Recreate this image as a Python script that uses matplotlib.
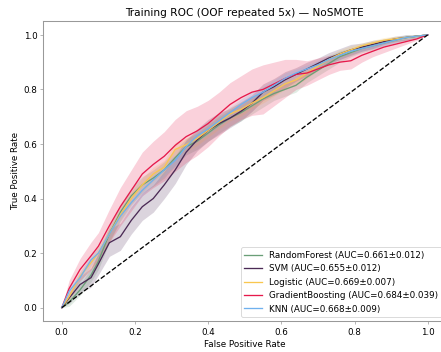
import matplotlib
matplotlib.use("Agg")
import matplotlib.pyplot as plt
import numpy as np

# mean ROC on a shared FPR grid, with +/- 1 std across repeats
fpr = [0.0, 0.02, 0.05, 0.08, 0.10, 0.13, 0.16, 0.19, 0.22, 0.25, 0.28, 0.31,
       0.34, 0.37, 0.40, 0.43, 0.46, 0.49, 0.52, 0.55, 0.58, 0.61, 0.64, 0.67,
       0.70, 0.73, 0.76, 0.79, 0.82, 0.85, 0.88, 0.91, 0.94, 0.97, 1.0]

models = ["RandomForest", "SVM", "Logistic", "GradientBoosting", "KNN"]
auc_mean = [0.661, 0.655, 0.669, 0.684, 0.668]
auc_std = [0.012, 0.012, 0.007, 0.039, 0.009]
colors = ["#6a9f77", "#4b2a55", "#f9c74f", "#e6194b", "#6fb1ee"]

tpr_rf = [0.0, 0.02, 0.065, 0.12, 0.17, 0.27, 0.35, 0.41, 0.45, 0.475, 0.505, 0.55,
          0.59, 0.61, 0.64, 0.67, 0.695, 0.715, 0.74, 0.765, 0.785, 0.80, 0.815, 0.845,
          0.87, 0.895, 0.92, 0.935, 0.95, 0.96, 0.97, 0.98, 0.99, 0.995, 1.0]
tpr_svm = [0.0, 0.035, 0.085, 0.11, 0.16, 0.238, 0.26, 0.32, 0.37, 0.40, 0.45, 0.505,
           0.57, 0.615, 0.65, 0.675, 0.695, 0.72, 0.75, 0.79, 0.81, 0.835, 0.855, 0.875,
           0.895, 0.915, 0.93, 0.945, 0.955, 0.965, 0.975, 0.985, 0.99, 0.995, 1.0]
tpr_lr = [0.0, 0.04, 0.115, 0.165, 0.20, 0.27, 0.34, 0.40, 0.45, 0.49, 0.515, 0.58,
          0.597, 0.62, 0.65, 0.68, 0.71, 0.727, 0.75, 0.77, 0.795, 0.82, 0.835, 0.86,
          0.885, 0.91, 0.93, 0.945, 0.96, 0.97, 0.98, 0.985, 0.99, 0.995, 1.0]
tpr_gb = [0.0, 0.07, 0.14, 0.19, 0.225, 0.30, 0.37, 0.43, 0.49, 0.525, 0.555, 0.595,
          0.627, 0.648, 0.675, 0.71, 0.745, 0.77, 0.79, 0.80, 0.82, 0.84, 0.855, 0.86,
          0.875, 0.89, 0.90, 0.905, 0.925, 0.94, 0.955, 0.965, 0.975, 0.985, 1.0]
tpr_knn = [0.0, 0.06, 0.11, 0.175, 0.20, 0.27, 0.335, 0.385, 0.43, 0.468, 0.505, 0.54,
           0.59, 0.63, 0.655, 0.685, 0.715, 0.745, 0.77, 0.79, 0.815, 0.84, 0.86, 0.875,
           0.89, 0.91, 0.925, 0.94, 0.95, 0.96, 0.97, 0.98, 0.99, 0.995, 1.0]

std_rf = [0.0, 0.015, 0.02, 0.025, 0.03, 0.03, 0.03, 0.03, 0.03, 0.03, 0.03, 0.03,
          0.03, 0.03, 0.03, 0.03, 0.03, 0.03, 0.03, 0.03, 0.025, 0.025, 0.025, 0.02,
          0.02, 0.02, 0.02, 0.015, 0.015, 0.015, 0.01, 0.01, 0.01, 0.005, 0.0]
std_svm = [0.0, 0.02, 0.03, 0.035, 0.04, 0.05, 0.05, 0.05, 0.05, 0.05, 0.05, 0.05,
           0.045, 0.04, 0.04, 0.04, 0.035, 0.035, 0.03, 0.03, 0.03, 0.03, 0.025, 0.025,
           0.02, 0.02, 0.02, 0.02, 0.015, 0.015, 0.01, 0.01, 0.01, 0.005, 0.0]
std_lr = [0.0, 0.015, 0.02, 0.02, 0.025, 0.025, 0.025, 0.025, 0.025, 0.025, 0.025, 0.025,
          0.025, 0.025, 0.025, 0.025, 0.025, 0.025, 0.02, 0.02, 0.02, 0.02, 0.02, 0.02,
          0.015, 0.015, 0.015, 0.015, 0.01, 0.01, 0.01, 0.01, 0.005, 0.005, 0.0]
std_gb = [0.0, 0.03, 0.04, 0.05, 0.05, 0.06, 0.07, 0.075, 0.08, 0.085, 0.09, 0.095,
          0.095, 0.09, 0.085, 0.08, 0.08, 0.08, 0.085, 0.09, 0.08, 0.07, 0.055, 0.045,
          0.04, 0.035, 0.03, 0.03, 0.025, 0.02, 0.02, 0.015, 0.01, 0.005, 0.0]
std_knn = [0.0, 0.015, 0.02, 0.02, 0.02, 0.02, 0.02, 0.02, 0.02, 0.02, 0.02, 0.02,
           0.02, 0.02, 0.02, 0.02, 0.02, 0.02, 0.02, 0.02, 0.02, 0.02, 0.015, 0.015,
           0.015, 0.015, 0.015, 0.01, 0.01, 0.01, 0.01, 0.01, 0.005, 0.005, 0.0]

tprs = [tpr_rf, tpr_svm, tpr_lr, tpr_gb, tpr_knn]
stds = [std_rf, std_svm, std_lr, std_gb, std_knn]

fig = plt.figure(figsize=(7, 352.2 / 63), dpi=63)
ax = fig.add_axes([0.0986, 0.0872, 0.9127, 0.852])

x = np.array(fpr)
for name, m, s, c, am, asd in zip(models, tprs, stds, colors, auc_mean, auc_std):
    m = np.array(m)
    s = np.array(s)
    ax.plot(x, m, color=c, lw=1.5, label=f"{name} (AUC={am:.3f}\u00b1{asd:.3f})")
    ax.fill_between(x, np.clip(m - s, 0, 1), np.clip(m + s, 0, 1), color=c, alpha=0.2, lw=0)

ax.plot([0, 1], [0, 1], "k--", lw=1.5)

for sp in ax.spines.values():
    sp.set_color("#999999")
    sp.set_linewidth(1.2)
ax.tick_params(color="#999999")

ax.set_xlabel("False Positive Rate")
ax.set_ylabel("True Positive Rate")
ax.set_title("Training ROC (OOF repeated 5x) \u2014 NoSMOTE")
ax.legend(loc="lower right")

fig.savefig("out.png", dpi=63)
